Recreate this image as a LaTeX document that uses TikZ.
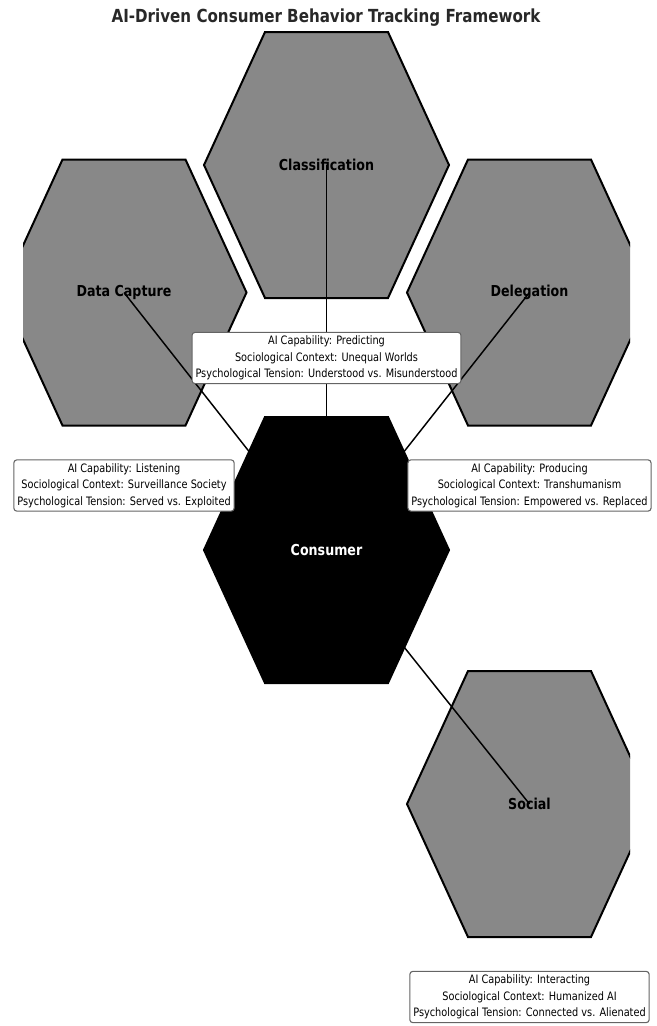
\documentclass[tikz,border=0pt]{standalone}
\usepackage{fontspec}
\setmainfont[FakeStretch=0.84]{DejaVu Sans}

\definecolor{hexgray}{RGB}{136,136,136}
\definecolor{boxedge}{RGB}{100,100,100}
\definecolor{titlegray}{RGB}{40,40,40}

\begin{document}
\begin{tikzpicture}[x=0.75pt, y=-0.75pt,
    hexcell/.style={fill=hexgray, draw=black, line width=1.5pt},
    link/.style={draw=black, line width=1.1pt},
    infobox/.style={draw=boxedge, fill=white, rounded corners=2.2pt, line width=0.8pt,
      inner sep=2.6pt, align=center, font=\fontsize{8.7}{12.4}\selectfont},
    hexname/.style={font=\fontsize{11.3}{13}\selectfont\bfseries}]
  \useasboundingbox (0,0) rectangle (657,1026);
  \node[text=titlegray, font=\fontsize{13.5}{16}\selectfont\bfseries] (title) at (326,18) {AI-Driven Consumer Behavior Tracking Framework};

  % hexagon centres
  \coordinate (classification) at (326.5,165);
  \coordinate (capture) at (124,292.5);
  \coordinate (delegation) at (529.5,292.5);
  \coordinate (consumer) at (326.5,550);
  \coordinate (social) at (529.5,804);

  \begin{scope}
    \clip (23,0) rectangle (630,1026);
    \foreach \c/\shade in {classification/hexgray, capture/hexgray, delegation/hexgray, social/hexgray, consumer/black}
      \draw[hexcell, fill=\shade] (\c) ++(-122.5,0) -- ++(61,-133) -- ++(123,0) -- ++(61,133) -- ++(-61,133) -- ++(-123,0) -- cycle;
  \end{scope}

  \draw[link] (consumer) -- (classification);
  \draw[link] (consumer) -- (capture);
  \draw[link] (consumer) -- (delegation);
  \draw[link] (consumer) -- (social);

  \node[infobox, yshift=-144.75pt] (classification-info) at (classification) {AI Capability: Predicting\\Sociological Context: Unequal Worlds\\Psychological Tension: Understood vs. Misunderstood};
  \node[infobox, yshift=-144.75pt] (capture-info) at (capture) {AI Capability: Listening\\Sociological Context: Surveillance Society\\Psychological Tension: Served vs. Exploited};
  \node[infobox, yshift=-144.75pt] (delegation-info) at (delegation) {AI Capability: Producing\\Sociological Context: Transhumanism\\Psychological Tension: Empowered vs. Replaced};
  \node[infobox, yshift=-144.75pt] (social-info) at (social) {AI Capability: Interacting\\Sociological Context: Humanized AI\\Psychological Tension: Connected vs. Alienated};

  \node[hexname] (classification-name) at (classification) {Classification};
  \node[hexname] (capture-name) at (capture) {Data Capture};
  \node[hexname] (delegation-name) at (delegation) {Delegation};
  \node[hexname, text=white] (consumer-name) at (consumer) {Consumer};
  \node[hexname] (social-name) at (social) {Social};
\end{tikzpicture}
\end{document}
